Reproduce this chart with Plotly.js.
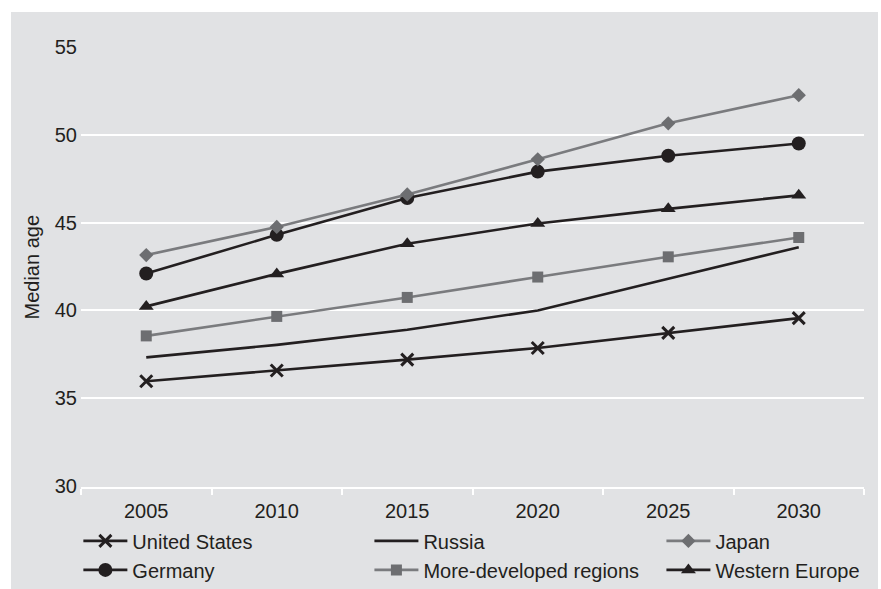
<!DOCTYPE html>
<html>
<head>
<meta charset="utf-8">
<script src="https://cdn.plot.ly/plotly-3.0.1.min.js"></script>
<style>
  html, body { margin: 0; padding: 0; background: #ffffff; }
  #chart { position: absolute; left: 11px; top: 12px; width: 867px; height: 577px; }
</style>
</head>
<body>
<div id="chart"></div>
<script>
const years = ['2005', '2010', '2015', '2020', '2025', '2030'];
const unitedStates = [35.97, 36.58, 37.2, 37.86, 38.72, 39.56];
const russia = [37.33, 38.04, 38.9, 40.0, 41.8, 43.6];
const japan = [43.15, 44.75, 46.6, 48.6, 50.65, 52.25];
const germany = [42.1, 44.3, 46.4, 47.9, 48.8, 49.5];
const moreDeveloped = [38.55, 39.66, 40.74, 41.9, 43.05, 44.15];
const westernEurope = [40.23, 42.08, 43.8, 44.95, 45.78, 46.55];
const yTitle = 'Median age';

const BLACK = '#231f20';
const GRAY_LINE = '#7a7b7e';
const GRAY_MARK = '#6d6e71';
const FONT = '"Liberation Sans", Arial, sans-serif';
const FS = 20;

function tr(name, y, color, mcolor, symbol, size, legend, mode) {
  return {
    x: years, y: y, name: name, type: 'scatter', mode: mode || 'lines+markers',
    legend: legend,
    line: { color: color, width: 2.6 },
    marker: { color: mcolor, symbol: symbol, size: size,
              line: { color: mcolor, width: symbol === 'x-thin' ? 3 : 0 } }
  };
}

const data = [
  tr('United States', unitedStates, BLACK, BLACK, 'x-thin', 12, 'legend'),
  tr('Germany', germany, BLACK, BLACK, 'circle', 14, 'legend'),
  tr('Russia', russia, BLACK, BLACK, 'circle', 1, 'legend2', 'lines'),
  tr('More-developed regions', moreDeveloped, GRAY_LINE, GRAY_MARK, 'square', 11, 'legend2'),
  tr('Japan', japan, GRAY_LINE, GRAY_MARK, 'diamond', 11, 'legend3'),
  tr('Western Europe', westernEurope, BLACK, BLACK, 'triangle-up', 13, 'legend3')
];

function leg(x) {
  return {
    orientation: 'v', xref: 'container', yref: 'container',
    x: x, xanchor: 'left', y: 0.1172, yanchor: 'top',
    bgcolor: 'rgba(0,0,0,0)', itemwidth: 44, tracegroupgap: 0,
    font: { family: FONT, size: FS, color: '#231f20' },
    traceorder: 'normal'
  };
}

const layout = {
  width: 867, height: 577,
  paper_bgcolor: '#e1e2e4', plot_bgcolor: '#e1e2e4',
  margin: { l: 70, r: 14, t: 34.1, b: 102.1, autoexpand: false },
  font: { family: FONT, size: FS, color: '#231f20' },
  showlegend: true,
  legend: leg(0.0777),
  legend2: leg(0.4134),
  legend3: leg(0.7502),
  xaxis: {
    type: 'category', range: [-0.5, 5.5], tickson: 'boundaries',
    showgrid: false, zeroline: false,
    showline: true, linecolor: '#ffffff', linewidth: 2,
    ticks: 'outside', ticklen: 6, tickwidth: 2, tickcolor: '#ffffff',
    ticklabelstandoff: 5,
    tickfont: { family: FONT, size: FS, color: '#231f20' },
    fixedrange: true
  },
  yaxis: {
    range: [29.95, 55.05], tickvals: [30, 35, 40, 45, 50, 55],
    showgrid: true, gridcolor: '#ffffff', gridwidth: 2,
    zeroline: false, showline: false, ticks: '',
    ticklabelstandoff: 3,
    tickfont: { family: FONT, size: FS, color: '#231f20' },
    fixedrange: true
  },
  annotations: [{
    text: yTitle, xref: 'paper', yref: 'paper', x: -0.0626, y: 0.5,
    xanchor: 'center', yanchor: 'middle', textangle: -90, showarrow: false,
    font: { family: FONT, size: FS, color: '#231f20' }
  }]
};

Plotly.newPlot('chart', data, layout, { displayModeBar: false, staticPlot: true });
</script>
</body>
</html>
